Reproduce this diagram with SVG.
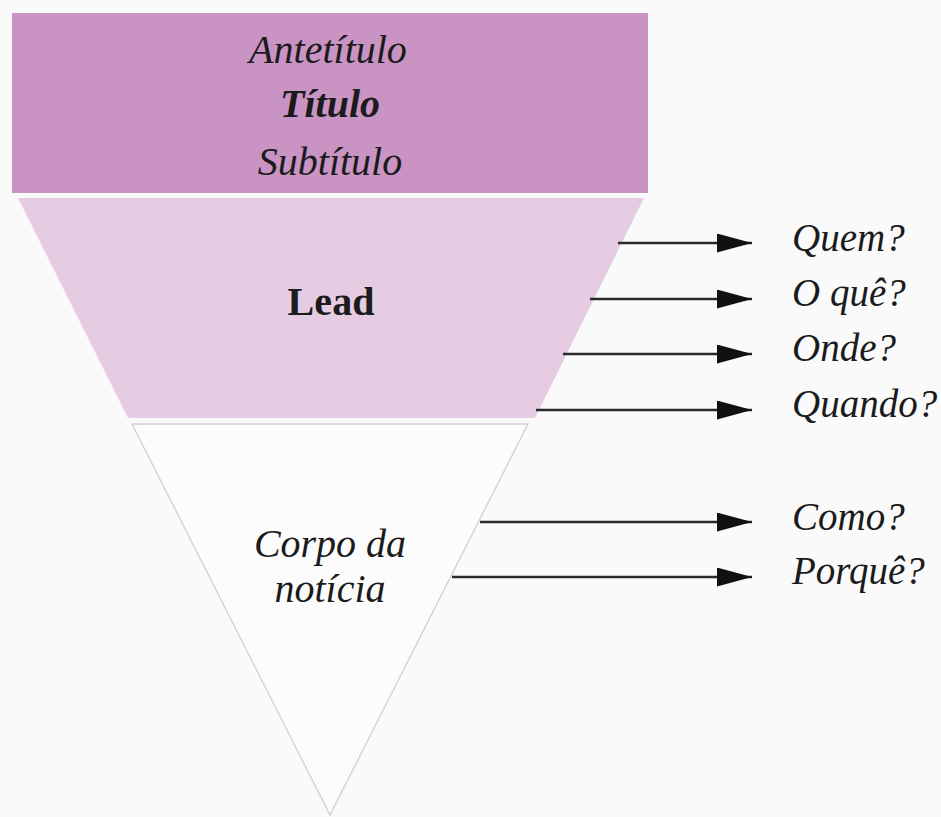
<svg xmlns="http://www.w3.org/2000/svg" width="941" height="817" viewBox="0 0 941 817">
  <style>
    .t { font-family: "Liberation Serif", "Times New Roman", serif; fill: #1b1b1b; font-size: 40px; }
    .i { font-style: italic; }
    .b { font-weight: bold; }
    .q { font-family: "Liberation Serif", "Times New Roman", serif; font-style: italic; fill: #1b1b1b; font-size: 39px; }
    .arr { stroke: #2a2a2a; stroke-width: 2.6; fill: none; marker-end: url(#ah); }
  </style>
  <defs>
    <marker id="ah" markerUnits="userSpaceOnUse" markerWidth="36" markerHeight="20" refX="35" refY="9.5" orient="auto">
      <path d="M0,0 L35,9.5 L0,19 Z" fill="#111"/>
    </marker>
  </defs>
  <rect x="0" y="0" width="941" height="817" fill="#fbfafb"/>

  <g id="titulos">
    <rect x="12" y="13" width="636" height="180" fill="#c993c3"/>
    <text class="t i" x="328" y="63" text-anchor="middle">Antetítulo</text>
    <text class="t i b" x="330" y="117" text-anchor="middle">Título</text>
    <text class="t i" x="330" y="175" text-anchor="middle">Subtítulo</text>
  </g>

  <g id="lead">
    <polygon points="18,198 644,198 535,418 128,418" fill="#e5cce3"/>
    <text class="t b" x="331" y="315" text-anchor="middle" font-size="44" textLength="87">Lead</text>
  </g>

  <g id="corpo">
    <polygon points="132,424 528,424 330,815" fill="#fdfcfd" stroke="#d9c9d6" stroke-width="1.3"/>
    <text class="t i" x="330" y="557" text-anchor="middle">Corpo da</text>
    <text class="t i" x="330" y="602" text-anchor="middle">notícia</text>
  </g>

  <g id="connectors">
    <line class="arr" x1="618" y1="243" x2="752" y2="243"/>
    <line class="arr" x1="590" y1="299" x2="752" y2="299"/>
    <line class="arr" x1="563" y1="354" x2="752" y2="354"/>
    <line class="arr" x1="536" y1="410" x2="752" y2="410"/>
    <line class="arr" x1="480" y1="522" x2="752" y2="522"/>
    <line class="arr" x1="452" y1="577" x2="752" y2="577"/>
  </g>

  <g id="perguntas">
    <text class="q" x="792" y="251">Quem?</text>
    <text class="q" x="792" y="306">O quê?</text>
    <text class="q" x="792" y="361">Onde?</text>
    <text class="q" x="792" y="417">Quando?</text>
    <text class="q" x="792" y="530">Como?</text>
    <text class="q" x="792" y="584">Porquê?</text>
  </g>
</svg>
